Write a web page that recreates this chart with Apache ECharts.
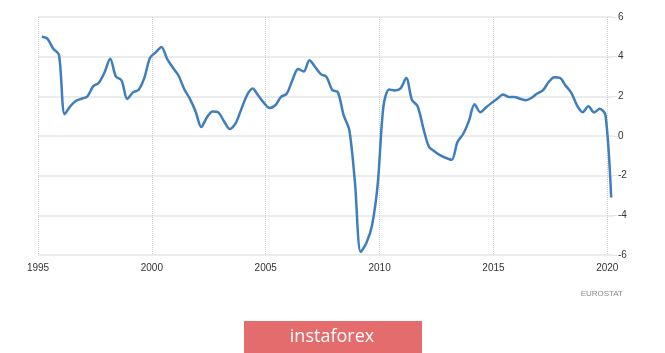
<!DOCTYPE html>
<html>
<head>
<meta charset="utf-8">
<script src="https://cdn.jsdelivr.net/npm/echarts@6/dist/echarts.min.js"></script>
<style>
  html, body { margin: 0; padding: 0; background: #fff; }
  #chart { width: 665px; height: 353px; }
</style>
</head>
<body>
<div id="chart"></div>
<script>
// quarters 1995Q1 .. 2020Q1
const quarters = []
for (let y = 1995; y <= 2020; y++) {
  for (let q = 1; q <= 4; q++) {
    if (y === 2020 && q > 1) break
    quarters.push(y + 'Q' + q)
  }
}

// GDP growth, % y/y
const growth = [
  5.0, 4.9, 4.4, 4.1, 1.1, 1.5, 1.78, 1.88, 2.0, 2.5,
  2.68, 3.2, 3.9, 3.0, 2.8, 1.87, 2.2, 2.33, 2.93, 3.94,
  4.22, 4.49, 3.89, 3.45, 3.05, 2.37, 1.87, 1.24, 0.45, 0.95,
  1.24, 1.19, 0.74, 0.35, 0.62, 1.33, 2.04, 2.39, 2.04, 1.67,
  1.41, 1.55, 1.97, 2.13, 2.81, 3.38, 3.25, 3.82, 3.48, 3.12,
  2.98, 2.32, 2.2, 1.05, 0.3, -2.37, -5.85, -5.4, -4.5, -2.4,
  1.5, 2.34, 2.3, 2.4, 2.93, 1.83, 1.5, 0.4, -0.55, -0.78,
  -0.98, -1.11, -1.2, -0.3, 0.1, 0.75, 1.6, 1.2, 1.44, 1.67,
  1.88, 2.09, 1.97, 1.97, 1.88, 1.8, 1.92, 2.14, 2.3, 2.71,
  2.96, 2.93, 2.54, 2.18, 1.55, 1.2, 1.5, 1.19, 1.37, 1.05,
  -3.1
]

const yTicks = [-6, -4, -2, 0, 2, 4, 6]
const xTicks = [1995, 2000, 2005, 2010, 2015, 2020]

// quarter label -> decimal year
function toYear(label) {
  const y = parseInt(label.slice(0, 4))
  const q = parseInt(label.slice(5))
  return y + (q - 1) * 0.25 + 0.17
}

const seriesData = quarters.map((label, i) => [toYear(label), growth[i]])

const chart = echarts.init(document.getElementById('chart'))
chart.setOption({
  animation: false,
  grid: { left: 38, right: 52, top: 17, bottom: 98 },
  xAxis: {
    type: 'value',
    min: xTicks[0],
    max: 2020.25,
    interval: 5,
    axisLine: { show: false },
    axisTick: { show: false },
    axisLabel: {
      showMaxLabel: false,
      margin: 8,
      color: '#333',
      fontSize: 10,
      fontFamily: 'Liberation Sans',
      formatter: v => (v % 5 === 0 ? String(v) : '')
    },
    splitLine: {
      show: true,
      showMaxLine: false,
      lineStyle: { color: '#cfcfcf', type: 'dotted', width: 1 }
    }
  },
  yAxis: {
    type: 'value',
    position: 'right',
    min: yTicks[0],
    max: yTicks[yTicks.length - 1],
    interval: 2,
    axisLine: { show: false },
    axisTick: { show: true, length: 4, lineStyle: { color: '#e3e3e3' } },
    axisLabel: {
      margin: 5,
      color: '#333',
      fontSize: 10,
      fontFamily: 'Liberation Sans',
      align: 'left'
    },
    splitLine: {
      lineStyle: { color: '#e6e6e6', width: 1.5 }
    }
  },
  series: [{
    type: 'line',
    data: seriesData,
    smooth: 0.3,
    symbol: 'none',
    lineStyle: { color: '#3e7ebd', width: 2.5 }
  }],
  graphic: [
    {
      type: 'text',
      right: 42,
      top: 290,
      style: { text: 'EUROSTAT', fill: '#8a8a8a', font: '8px "Liberation Sans"' }
    },
    {
      type: 'rect',
      shape: { x: 244, y: 321, width: 178, height: 32 },
      style: { fill: '#e46c6c' }
    },
    {
      type: 'text',
      x: 332,
      y: 337,
      style: {
        text: 'instaforex',
        fill: '#fff',
        font: '18px "Open Sans"',
        align: 'center',
        verticalAlign: 'middle'
      }
    }
  ]
})
</script>
</body>
</html>
